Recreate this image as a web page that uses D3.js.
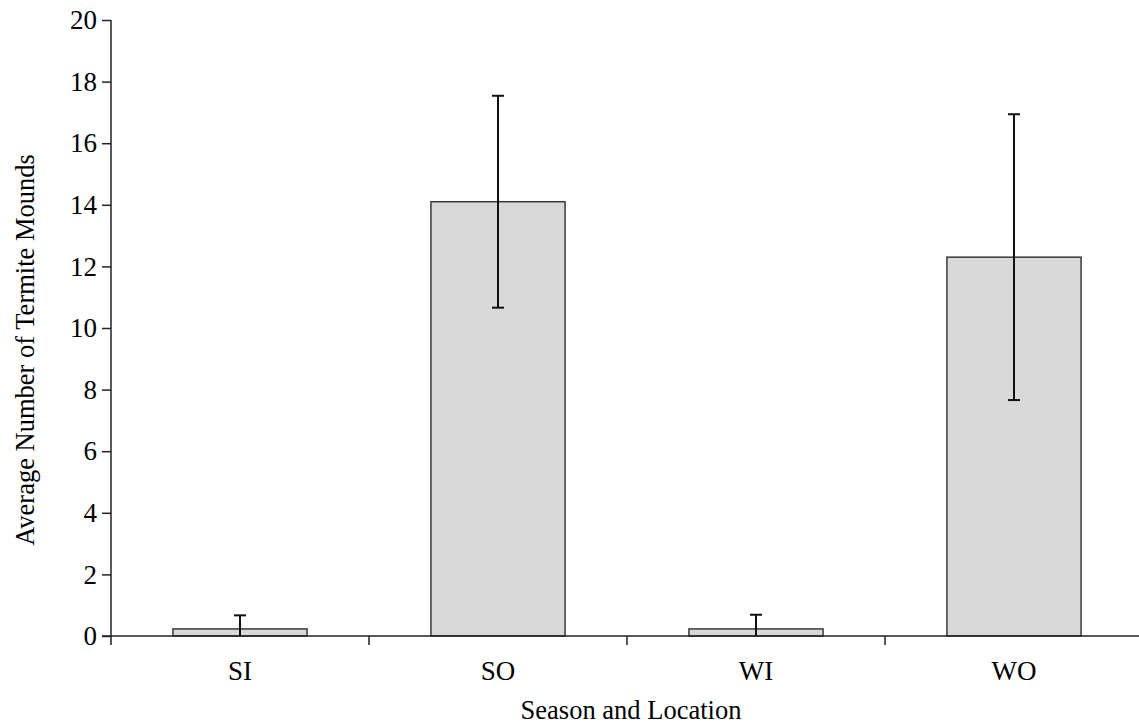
<!DOCTYPE html>
<html>
<head>
<meta charset="utf-8">
<script src="https://cdn.jsdelivr.net/npm/d3@7"></script>
<style>
  body { margin: 0; background: #fff; }
  svg { display: block; font-family: "Liberation Serif", "Times New Roman", serif; }
</style>
</head>
<body>
<svg id="chart" width="1139" height="728"></svg>
<script>
// Termite mound counts by season and location
const categories = ["SI", "SO", "WI", "WO"];
const means = [0.23, 14.1, 0.23, 12.3];
const errors = [0.44, 3.44, 0.46, 4.64];
const yTicks = [0, 2, 4, 6, 8, 10, 12, 14, 16, 18, 20];

const svg = d3.select("#chart");
const plotLeft = 111, plotRight = 1143, plotTop = 20, plotBottom = 636;

const x = d3.scaleBand().domain(categories).range([plotLeft, plotRight]).paddingInner(0.48).paddingOuter(0.24);
const xTicks = d3.scaleBand().domain(categories).range([plotLeft, plotRight]);
const y = d3.scaleLinear().domain([0, 20]).range([plotBottom, plotTop]);

// bars
svg.append("g").selectAll("rect").data(categories).join("rect")
  .attr("x", d => x(d))
  .attr("width", x.bandwidth())
  .attr("y", (d, i) => y(means[i]))
  .attr("height", (d, i) => y(0) - y(means[i]))
  .attr("fill", "#d9d9d9")
  .attr("stroke", "#3a3a3a")
  .attr("stroke-width", 1.5);

// error bars (clipped at zero)
const eb = svg.append("g").attr("stroke", "#111").attr("stroke-width", 2);
categories.forEach((c, i) => {
  const cx = x(c) + x.bandwidth() / 2;
  const hi = means[i] + errors[i];
  const lo = Math.max(0, means[i] - errors[i]);
  eb.append("line").attr("x1", cx).attr("x2", cx).attr("y1", y(hi)).attr("y2", y(lo));
  eb.append("line").attr("x1", cx - 6).attr("x2", cx + 6).attr("y1", y(hi)).attr("y2", y(hi));
  if (means[i] - errors[i] > 0) {
    eb.append("line").attr("x1", cx - 6).attr("x2", cx + 6).attr("y1", y(lo)).attr("y2", y(lo));
  }
});

// y axis
const yAxis = svg.append("g").attr("transform", `translate(${plotLeft},0)`)
  .call(d3.axisLeft(y).tickValues(yTicks).tickSize(9).tickPadding(5).tickFormat(d3.format("d")));
yAxis.selectAll("path, line").attr("stroke", "#222").attr("stroke-width", 1.5);
yAxis.select(".domain").attr("d", `M0,${plotTop}V${plotBottom}`);
yAxis.selectAll("text").attr("font-size", 27).attr("font-family", "Liberation Serif").attr("fill", "#000");

// x axis with ticks at band boundaries
const xg = svg.append("g").attr("transform", `translate(0,${plotBottom})`);
xg.append("line").attr("x1", plotLeft - 9).attr("x2", plotRight).attr("stroke", "#222").attr("stroke-width", 1.5);
xg.selectAll("line.tick").data(categories).join("line")
  .attr("class", "tick")
  .attr("x1", d => xTicks(d)).attr("x2", d => xTicks(d))
  .attr("y1", 0).attr("y2", 9)
  .attr("stroke", "#222").attr("stroke-width", 1.5);
xg.selectAll("text").data(categories).join("text")
  .attr("x", d => x(d) + x.bandwidth() / 2)
  .attr("y", 44)
  .attr("text-anchor", "middle")
  .attr("font-size", 27)
  .text(d => d);

// axis titles
svg.append("text")
  .attr("x", 631)
  .attr("y", 719)
  .attr("text-anchor", "middle")
  .attr("font-size", 26.5)
  .text("Season and Location");

svg.append("text")
  .attr("transform", `translate(34,350) rotate(-90)`)
  .attr("text-anchor", "middle")
  .attr("font-size", 26.5)
  .text("Average Number of Termite Mounds");
</script>
</body>
</html>
